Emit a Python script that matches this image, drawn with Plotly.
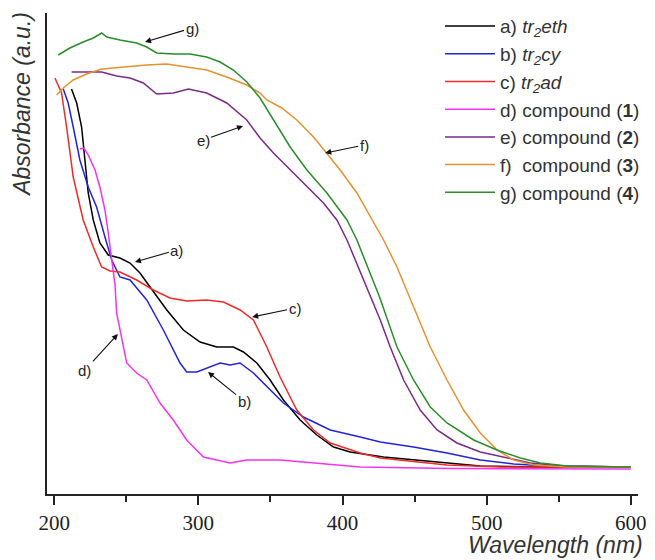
import plotly.graph_objects as go

# ---- data (wavelength in nm, absorbance in arbitrary units) ----
a_x = [212, 215.6, 219, 221.3, 223.6, 227.1, 231.7, 237.5, 245.6, 252.6, 259.5, 266.5, 278.1, 289.6, 301.2, 312.8,
       324.3, 331.3, 340.6, 349.8, 359, 370.6, 382.2, 393.8, 405.3, 428.5, 449.3, 472.5, 495.6, 540, 600]
a_y = [4.05, 3.91, 3.67, 3.34, 3.01, 2.74, 2.51, 2.39, 2.36, 2.31, 2.21, 2.07, 1.84, 1.64, 1.52, 1.47,
       1.47, 1.42, 1.31, 1.14, 0.94, 0.74, 0.59, 0.47, 0.42, 0.37, 0.34, 0.31, 0.28, 0.27, 0.27]

b_x = [206.3, 209.7, 213.2, 217.8, 223.6, 229.4, 235.2, 239.9, 245.6, 252.6, 264.2, 275.7, 287.3, 291.9, 298.9,
       308.1, 315.1, 322, 328.9, 338.2, 349.8, 359, 372.9, 391.5, 412.3, 426.2, 449.3, 472.5, 495.6, 518.8, 541.9, 600]
b_y = [4.05, 3.91, 3.67, 3.34, 3.07, 2.87, 2.57, 2.34, 2.17, 2.14, 1.94, 1.64, 1.31, 1.22, 1.22,
       1.27, 1.31, 1.29, 1.31, 1.21, 1.04, 0.91, 0.77, 0.64, 0.57, 0.52, 0.47, 0.41, 0.34, 0.30, 0.28, 0.27]

c_x = [200.5, 205.1, 208.6, 213.2, 220.1, 227.1, 232.9, 238.7, 245.6, 257.2, 268.8, 280.3, 291.9, 305.8, 317.4,
       329, 338.2, 347.5, 356.7, 368.3, 379.9, 391.5, 412.3, 426.2, 472.5, 509.5, 600]
c_y = [4.16, 4.01, 3.67, 3.17, 2.74, 2.47, 2.27, 2.23, 2.22, 2.14, 2.04, 1.96, 1.93, 1.94, 1.92,
       1.84, 1.74, 1.47, 1.17, 0.84, 0.64, 0.51, 0.41, 0.36, 0.29, 0.27, 0.27]

d_x = [217.8, 220.6, 223.6, 228.3, 231.7, 235.2, 237.5, 239.9, 242.2, 243.3, 246.8, 250.3, 257.2, 264.2, 273.4,
       282.6, 291.9, 303.5, 322, 333.6, 356.7, 379.9, 412.3, 474.7, 600]
d_y = [3.45, 3.46, 3.39, 3.24, 3.07, 2.84, 2.61, 2.34, 2.09, 1.81, 1.54, 1.31, 1.21, 1.14, 0.91,
       0.74, 0.54, 0.37, 0.31, 0.34, 0.34, 0.31, 0.27, 0.255, 0.25]

e_x = [212.1, 220.1, 232.9, 243.3, 252.6, 261.8, 271.1, 282.6, 293.1, 305.8, 319.7, 333.6, 342.8, 352.1, 363.7,
       375.3, 386.8, 396.1, 403.1, 426.2, 433.1, 442.4, 453.9, 465.6, 479.4, 495.6, 514.2, 530.3, 553.5, 600]
e_y = [4.22, 4.22, 4.22, 4.18, 4.16, 4.11, 4.00, 4.01, 4.05, 4.01, 3.91, 3.74, 3.56, 3.41, 3.24,
       3.07, 2.91, 2.74, 2.54, 1.74, 1.47, 1.14, 0.84, 0.64, 0.51, 0.42, 0.36, 0.31, 0.28, 0.27]

f_x = [201.7, 206.3, 213.2, 222.5, 232.9, 247.9, 264.2, 278.1, 291.9, 305.8, 319.7, 333.6, 342.8, 347.5, 357.9,
       368.3, 379.9, 389.2, 398.4, 410, 421.5, 428.5, 437.8, 449.3, 460.9, 472.5, 484, 495.6, 507.2, 518.8,
       532.6, 555.8, 600]
f_y = [3.99, 4.06, 4.14, 4.20, 4.25, 4.27, 4.29, 4.30, 4.27, 4.24, 4.17, 4.09, 4.01, 3.94, 3.86,
       3.74, 3.57, 3.41, 3.24, 3.01, 2.71, 2.54, 2.27, 1.87, 1.47, 1.14, 0.84, 0.61, 0.44, 0.34,
       0.29, 0.27, 0.27]

g_x = [202.8, 210.9, 220.1, 227.1, 232.9, 236.4, 245.6, 257.2, 264.2, 271.1, 282.6, 294.2, 305.8, 315.1, 324.3,
       333.6, 342.8, 352.1, 363.7, 375.3, 389.2, 403.1, 410, 425.7, 437.8, 449.3, 460.9, 472.5, 491, 507.2,
       523.4, 537.3, 555.8, 597.5, 600]
g_y = [4.39, 4.46, 4.52, 4.56, 4.61, 4.57, 4.54, 4.51, 4.47, 4.41, 4.40, 4.40, 4.37, 4.32, 4.24,
       4.12, 3.96, 3.74, 3.47, 3.24, 3.01, 2.74, 2.54, 1.97, 1.47, 1.14, 0.87, 0.71, 0.54, 0.44,
       0.36, 0.31, 0.28, 0.27, 0.27]

names = ["a) <i>tr<sub>2</sub>eth</i>", "b) <i>tr<sub>2</sub>cy</i>", "c) <i>tr<sub>2</sub>ad</i>",
         "d) compound (<b>1</b>)", "e) compound (<b>2</b>)", "f)\u00a0 compound (<b>3</b>)",
         "g) compound (<b>4</b>)"]
colors = ["#000000", "#2323d8", "#ee2a2a", "#f233f2", "#7a2a88", "#e5912f", "#2c8c2c"]
xs = [a_x, b_x, c_x, d_x, e_x, f_x, g_x]
ys = [a_y, b_y, c_y, d_y, e_y, f_y, g_y]

# label, arrow head (x, y), text offset (px)
labels = ["a)", "b)", "c)", "d)", "e)", "f)", "g)"]
head_x = [256.0, 306.7, 337.3, 244.2, 331.0, 388.0, 263.0]
head_y = [2.32, 1.22, 1.77, 1.60, 3.68, 3.41, 4.52]
off_x = [42, 36, 43, -33, -40, 39, 47]
off_y = [-12, 29, -9, 36, 14, -8, -14]

fig = go.Figure()
for n, c, x, y in zip(names, colors, xs, ys):
    fig.add_trace(go.Scatter(x=x, y=y, mode="lines", name=n,
                             line=dict(color=c, width=1.5)))

for t, hx, hy, ox, oy in zip(labels, head_x, head_y, off_x, off_y):
    fig.add_annotation(x=hx, y=hy, xref="x", yref="y", text=t, showarrow=True,
                       ax=ox, ay=oy, arrowhead=2, arrowsize=1.1, arrowwidth=1.1,
                       arrowcolor="#111111", standoff=0,
                       font=dict(family="Liberation Sans", size=15, color="#222222"))

fig.add_annotation(x=-0.0423, y=0.809, xref="paper", yref="paper", text="<i>Absorbance (a.u.)</i>",
                   showarrow=False, textangle=-90, xanchor="center", yanchor="middle",
                   font=dict(family="Liberation Sans", size=23, color="#333333"))
fig.add_annotation(x=1.012, y=-0.106, xref="paper", yref="paper", text="<i>Wavelength (nm)</i>",
                   showarrow=False, xanchor="right", yanchor="middle",
                   font=dict(family="Liberation Sans", size=23, color="#333333"))

fig.update_layout(
    width=655, height=560,
    margin=dict(l=47, r=17, t=13, b=66, autoexpand=False),
    paper_bgcolor="white", plot_bgcolor="white",
    showlegend=True,
    legend=dict(x=0.665, y=1.012, xanchor="left", yanchor="top", bgcolor="rgba(0,0,0,0)",
                font=dict(family="Liberation Sans", size=19, color="#333333"),
                tracegroupgap=0, itemwidth=50),
    xaxis=dict(range=[195, 605], showgrid=False, zeroline=False, showline=True,
               linecolor="#222222", linewidth=1.5, ticks="outside", ticklen=9, tickwidth=1.5,
               tickcolor="#222222", tickmode="linear", tick0=200, dtick=100,
               minor=dict(ticks="outside", ticklen=6, tickwidth=1.5, tickcolor="#222222", dtick=50, tick0=200),
               tickfont=dict(family="Times New Roman", size=21, color="#222222")),
    yaxis=dict(range=[0, 4.81], showgrid=False, zeroline=False, showline=True,
               linecolor="#222222", linewidth=1.5, ticks="", showticklabels=False),
)

fig.write_html("out.html", config={"displayModeBar": False},
               post_script="document.body.style.margin='0';document.body.style.overflow='hidden';")
